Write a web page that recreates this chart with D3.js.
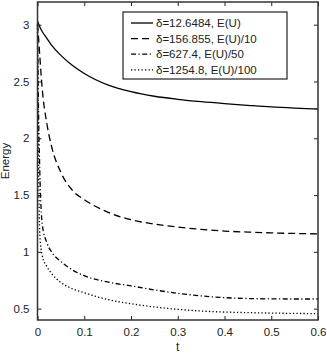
<!DOCTYPE html>
<html>
<head>
<meta charset="utf-8">
<script src="https://cdn.jsdelivr.net/npm/d3@7"></script>
<style>
  body { margin: 0; background: #fff; }
  svg { display: block; font-family: "Liberation Sans", Arial, sans-serif; }
</style>
</head>
<body>
<div id="chart"></div>
<script>
const width = 327;
const height = 354;
const margin = { top: 2, right: 9, bottom: 34, left: 37.5 };

// time samples (shared by all series)
const tValues = [0, 0.002, 0.005, 0.01, 0.02, 0.03, 0.05, 0.075, 0.1, 0.15, 0.2, 0.25, 0.3, 0.35, 0.4, 0.45, 0.5, 0.55, 0.6];

const energy1 = [3.03, 3.01, 2.98, 2.94, 2.88, 2.82, 2.73, 2.64, 2.57, 2.47, 2.41, 2.37, 2.343, 2.322, 2.305, 2.29, 2.276, 2.266, 2.258];
const energy10 = [3.0, 2.9, 2.72, 2.44, 2.13, 1.93, 1.70, 1.54, 1.46, 1.35, 1.283, 1.245, 1.218, 1.198, 1.183, 1.174, 1.167, 1.162, 1.158];
const energy50 = [3.0, 2.3, 1.7, 1.25, 1.08, 1.0, 0.915, 0.84, 0.79, 0.735, 0.70, 0.665, 0.635, 0.612, 0.597, 0.589, 0.586, 0.585, 0.585];
const energy100 = [3.0, 1.9, 1.15, 0.97, 0.87, 0.81, 0.73, 0.675, 0.64, 0.58, 0.543, 0.515, 0.494, 0.479, 0.47, 0.465, 0.461, 0.458, 0.456];

const seriesLabels = ["δ=12.6484, E(U)", "δ=156.855, E(U)/10", "δ=627.4, E(U)/50", "δ=1254.8, E(U)/100"];
const dashes = [null, "7,4", "5,2.5,1.2,2.5", "1.3,2.2"];

const xTicks = [0, 0.1, 0.2, 0.3, 0.4, 0.5, 0.6];
const yTicks = [0.5, 1, 1.5, 2, 2.5, 3];

const series = [energy1, energy10, energy50, energy100].map((vals, i) => ({
  label: seriesLabels[i],
  dash: dashes[i],
  points: tValues.map((t, j) => ({ t: t, e: vals[j] })),
}));

const x = d3.scaleLinear().domain([0, 0.6]).range([margin.left, width - margin.right]);
const y = d3.scaleLinear().domain([0.4, 3.2]).range([height - margin.bottom, margin.top]);

const svg = d3.select("#chart").append("svg")
  .attr("width", width)
  .attr("height", height);

const line = d3.line()
  .x((d) => x(d.t))
  .y((d) => y(d.e))
  .curve(d3.curveMonotoneX);

// curves
svg.append("g")
  .selectAll("path")
  .data(series)
  .join("path")
  .attr("d", (d) => line(d.points))
  .attr("fill", "none")
  .attr("stroke", "#000")
  .attr("stroke-width", 1.3)
  .attr("stroke-dasharray", (d) => d.dash);

// axes (matlab style, ticks inside, mirrored)
const tickLen = 4;
svg.append("g")
  .attr("transform", `translate(0,${height - margin.bottom})`)
  .call(d3.axisBottom(x).tickValues(xTicks).tickSize(-tickLen).tickPadding(8).tickFormat(d3.format("")))
  .call((g) => g.select(".domain").remove());

svg.append("g")
  .attr("transform", `translate(0,${margin.top})`)
  .call(d3.axisTop(x).tickValues(xTicks).tickSize(-tickLen).tickFormat(""))
  .call((g) => g.select(".domain").remove());

svg.append("g")
  .attr("transform", `translate(${margin.left},0)`)
  .call(d3.axisLeft(y).tickValues(yTicks).tickSize(-tickLen).tickPadding(8).tickFormat(d3.format("")))
  .call((g) => g.select(".domain").remove());

svg.append("g")
  .attr("transform", `translate(${width - margin.right},0)`)
  .call(d3.axisRight(y).tickValues(yTicks).tickSize(-tickLen).tickFormat(""))
  .call((g) => g.select(".domain").remove());

svg.selectAll(".tick line").attr("stroke", "#222");
svg.selectAll(".tick text").attr("font-size", "11.5px").attr("fill", "#222");

// box
svg.append("rect")
  .attr("x", margin.left)
  .attr("y", margin.top)
  .attr("width", width - margin.left - margin.right)
  .attr("height", height - margin.top - margin.bottom)
  .attr("fill", "none")
  .attr("stroke", "#333")
  .attr("stroke-width", 1.5);

// axis labels
svg.append("text")
  .attr("x", (margin.left + width - margin.right) / 2)
  .attr("y", 351)
  .attr("text-anchor", "middle")
  .attr("font-size", "12px")
  .attr("fill", "#222")
  .text("t");

svg.append("text")
  .attr("transform", `translate(9,${(margin.top + height - margin.bottom) / 2}) rotate(-90)`)
  .attr("text-anchor", "middle")
  .attr("font-size", "11.5px")
  .attr("fill", "#222")
  .text("Energy");

// legend
const legend = svg.append("g").attr("transform", "translate(123,12)");
legend.append("rect")
  .attr("width", 164)
  .attr("height", 67)
  .attr("fill", "#fff")
  .attr("stroke", "#222")
  .attr("stroke-width", 1.2);

const item = legend.selectAll(".item")
  .data(series)
  .join("g")
  .attr("class", "item")
  .attr("transform", (d, i) => `translate(0,${11 + i * 15.6})`);

item.append("line")
  .attr("x1", 8)
  .attr("x2", 30)
  .attr("stroke", "#000")
  .attr("stroke-width", 1.3)
  .attr("stroke-dasharray", (d) => d.dash);

item.append("text")
  .attr("x", 33)
  .attr("dy", "0.35em")
  .attr("font-size", "11.5px")
  .attr("fill", "#222")
  .text((d) => d.label);
</script>
</body>
</html>
